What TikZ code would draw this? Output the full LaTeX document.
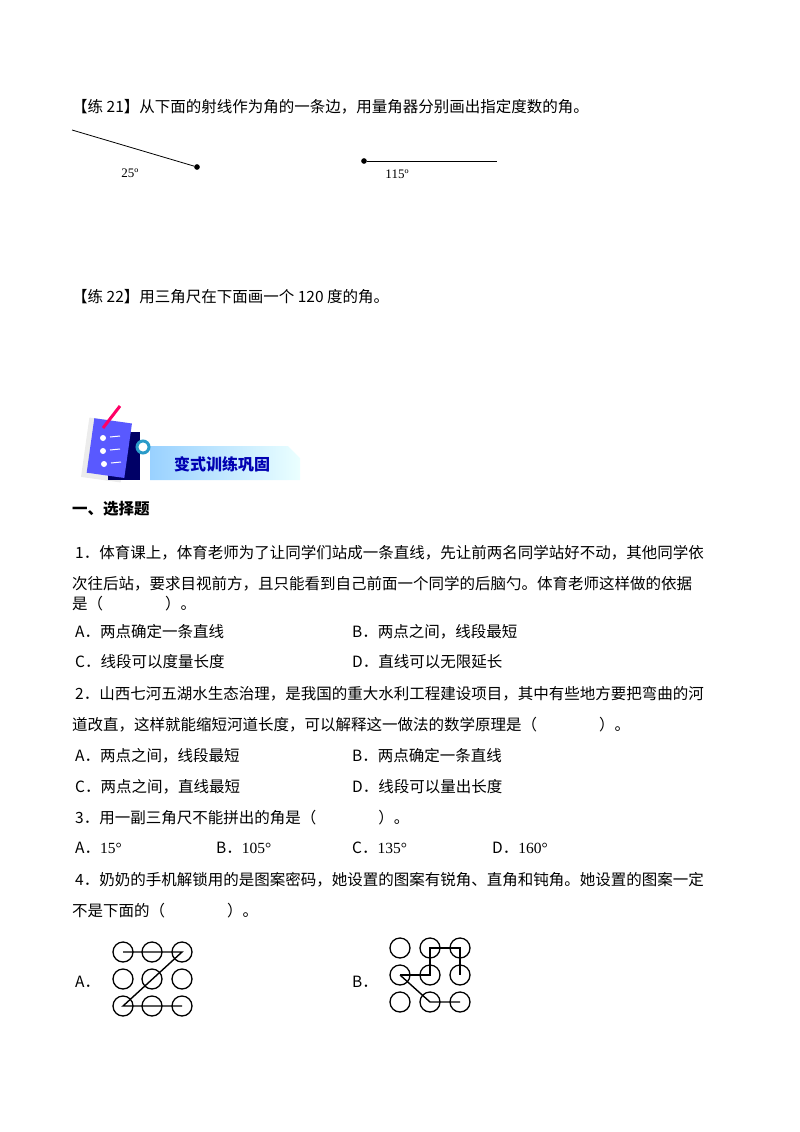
\documentclass[tikz,border=0pt]{standalone}
\usepackage{fontspec}
\setmainfont{Liberation Serif}
\newfontfamily\cjk{Noto Sans CJK SC}
\begin{document}
\begin{tikzpicture}[x=1pt,y=-1pt,
  tx/.style={anchor=west,inner sep=0,font=\fontsize{15.5}{18}\selectfont\cjk},
  circ/.style={draw,line width=1.3pt,circle,minimum size=20pt,inner sep=0},
  pl/.style={line width=1.4pt}]
\useasboundingbox (0,0) rectangle (800,1132);
\node[tx] (t21) at (72,107) {【练 21】从下面的射线作为角的一条边，用量角器分别画出指定度数的角。};
\coordinate (r1a) at (72,130); \node[fill,circle,inner sep=2pt] (r1b) at (197,167) {};
\draw[line width=0.8pt] (r1a) -- (r1b);
\node[inner sep=0,font=\fontsize{13}{14}\selectfont] (l1) at (130,173) {25º};
\node[fill,circle,inner sep=2pt] (r2a) at (364,161) {}; \coordinate (r2b) at (497,161);
\draw[line width=0.8pt] (r2a) -- (r2b);
\node[inner sep=0,font=\fontsize{13}{14}\selectfont] (l2) at (397,174) {115º};
\node[tx] (t22) at (72,297) {【练 22】用三角尺在下面画一个 120 度的角。};
% banner
\shade[left color=blue!45!cyan!40, right color=cyan!8] (150,446) -- (288,446) -- (300,458) -- (300,480) -- (150,480) -- cycle;
\node[inner sep=0,font=\fontsize{16}{18}\selectfont\cjk\bfseries,text=blue!70!black] (bt) at (222,464) {变式训练巩固};
\fill[gray!15,rotate around={-8:(105,450)}] (85,420) rectangle (125,480);
\fill[blue!40!black] (108,432) rectangle (140,480);
\fill[blue!65!white,rotate around={-8:(105,450)}] (90,420) rectangle (128,475);
\fill[white] (103,438) circle (3); \fill[white] (103,451) circle (3); \fill[white] (104,464) circle (3);
\draw[white,line width=1pt] (110,437) -- (120,436) (110,450) -- (120,449) (111,463)--(121,462);
\draw[red!60!magenta,line width=3pt] (103,428) -- (120,406);
\draw[cyan!60!teal,line width=3pt,fill=white] (143,447) circle (6);
\node[tx,font=\fontsize{15.5}{18}\selectfont\cjk\bfseries] (s1) at (72,509) {一、选择题};
\node[tx] (q1a) at (75,553) {1．体育课上，体育老师为了让同学们站成一条直线，先让前两名同学站好不动，其他同学依};
\node[tx] (q1b) at (72,584) {次往后站，要求目视前方，且只能看到自己前面一个同学的后脑勺。体育老师这样做的依据};
\node[tx] (q1c) at (72,604) {是（\hspace{4em}）。};
\node[tx] (o1a) at (75,632) {A．两点确定一条直线};
\node[tx] (o1b) at (352,632) {B．两点之间，线段最短};
\node[tx] (o1c) at (75,662) {C．线段可以度量长度};
\node[tx] (o1d) at (352,662) {D．直线可以无限延长};
\node[tx] (q2a) at (75,694) {2．山西七河五湖水生态治理，是我国的重大水利工程建设项目，其中有些地方要把弯曲的河};
\node[tx] (q2b) at (72,725) {道改直，这样就能缩短河道长度，可以解释这一做法的数学原理是（\hspace{4em}）。};
\node[tx] (o2a) at (75,756) {A．两点之间，线段最短};
\node[tx] (o2b) at (352,756) {B．两点确定一条直线};
\node[tx] (o2c) at (75,787) {C．两点之间，直线最短};
\node[tx] (o2d) at (352,787) {D．线段可以量出长度};
\node[tx] (q3) at (75,818) {3．用一副三角尺不能拼出的角是（\hspace{4em}）。};
\node[tx] (o3a) at (75,848) {A．{\rmfamily 15°}};
\node[tx] (o3b) at (216,848) {B．{\rmfamily 105°}};
\node[tx] (o3c) at (352,848) {C．{\rmfamily 135°}};
\node[tx] (o3d) at (492,848) {D．{\rmfamily 160°}};
\node[tx] (q4a) at (75,880) {4．奶奶的手机解锁用的是图案密码，她设置的图案有锐角、直角和钝角。她设置的图案一定};
\node[tx] (q4b) at (72,911) {不是下面的（\hspace{4em}）。};
\node[tx] (oa) at (75,982) {A．};
\node[tx] (ob) at (352,982) {B．};
% grid A
\foreach \i/\x in {1/123,2/152,3/182}{\foreach \j/\y in {1/952,2/979,3/1006}{\node[circ] (a\i\j) at (\x,\y) {};}}
\draw[pl] (a11.center) -- (a31.center) -- (a13.center) -- (a33.center);
% grid B
\foreach \i/\x in {1/400,2/430,3/460}{\foreach \j/\y in {1/948,2/975,3/1002}{\node[circ] (b\i\j) at (\x,\y) {};}}
\draw[pl] (b12.center) -- (b22.center) -- (b21.center) -- (b31.center) -- (b32.center);
\draw[pl] (b12.center) -- (b23.center) -- (b33.center);
\end{tikzpicture}
\end{document}
